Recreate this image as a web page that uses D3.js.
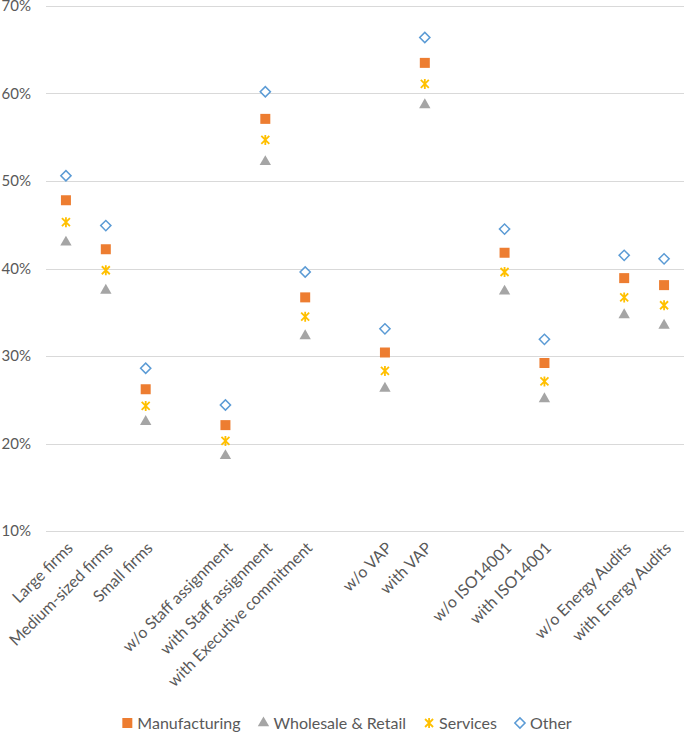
<!DOCTYPE html>
<html>
<head>
<meta charset="utf-8">
<script src="https://cdnjs.cloudflare.com/ajax/libs/d3/7.8.5/d3.min.js"></script>
<style>
  body { margin: 0; background: #fff; }
  text { font-family: Lato, "Open Sans", sans-serif; fill: #595959; }
</style>
</head>
<body>
<script>
// categories ("" = empty slot between groups)
var categories = ["Large firms", "Medium-sized firms", "Small firms", "",
  "w/o Staff assignment", "with Staff assignment", "with Executive commitment", "",
  "w/o VAP", "with VAP", "",
  "w/o ISO14001", "with ISO14001", "",
  "w/o Energy Audits", "with Energy Audits"];

var manufacturing = [47.8, 42.2, 26.2, null, 22.1, 57.1, 36.7, null, 30.4, 63.5, null, 41.8, 29.2, null, 38.9, 38.1];
var wholesale     = [43.0, 37.5, 22.5, null, 18.6, 52.2, 32.3, null, 26.3, 58.7, null, 37.4, 25.1, null, 34.7, 33.5];
var services      = [45.3, 39.8, 24.3, null, 20.3, 54.7, 34.5, null, 28.3, 61.1, null, 39.6, 27.1, null, 36.7, 35.8];
var other         = [50.6, 44.9, 28.6, null, 24.4, 60.2, 39.6, null, 33.1, 66.4, null, 44.5, 31.9, null, 41.5, 41.1];

var yTicks = [10, 20, 30, 40, 50, 60, 70];
var seriesNames = ["Manufacturing", "Wholesale & Retail", "Services", "Other"];

var w = 685, h = 733;
var margin = {left: 46, right: 1, top: 6, bottom: 202};

var svg = d3.select("body").append("svg")
  .attr("width", w)
  .attr("height", h);

var x = d3.scaleBand()
  .domain(d3.range(categories.length))
  .range([margin.left, w - margin.right]);

var y = d3.scaleLinear()
  .domain([10, 70])
  .range([h - margin.bottom, margin.top]);

// gridlines
svg.append("g").selectAll("line")
  .data(yTicks)
  .enter().append("line")
  .attr("x1", margin.left)
  .attr("x2", w - margin.right)
  .attr("y1", function(d) { return Math.round(y(d)) + 0.5; })
  .attr("y2", function(d) { return Math.round(y(d)) + 0.5; })
  .attr("stroke", "#d9d9d9")
  .attr("stroke-width", 1);

// y labels
svg.append("g").selectAll("text")
  .data(yTicks)
  .enter().append("text")
  .attr("x", 31)
  .attr("y", function(d) { return y(d); })
  .attr("dy", "0.35em")
  .attr("text-anchor", "end")
  .style("font-size", "15px")
  .text(function(d) { return d + "%"; });

// x labels, rotated
svg.append("g").selectAll("text")
  .data(categories)
  .enter().append("text")
  .attr("transform", function(d, i) {
    var cx = x(i) + x.bandwidth() / 2;
    return "translate(" + (cx + 8) + "," + (h - margin.bottom + 18) + ") rotate(-45)";
  })
  .attr("text-anchor", "end")
  .style("font-size", "16px")
  .text(function(d) { return d; });

// marker drawers
var starPath = "M0,-5V5M-4,-4L4,4M-4,4L4,-4";
function drawMarker(sel, k) {
  if (k === 0) {
    sel.append("path").attr("d", d3.symbol(d3.symbolSquare, 100)())
      .attr("fill", "#ed7d31");
  } else if (k === 1) {
    sel.append("path").attr("d", d3.symbol(d3.symbolTriangle, 56)())
      .attr("fill", "#a5a5a5");
  } else if (k === 2) {
    sel.append("path").attr("d", starPath)
      .attr("fill", "none").attr("stroke", "#ffc000").attr("stroke-width", 1.8);
  } else {
    sel.append("path").attr("d", d3.symbol(d3.symbolSquare, 52)())
      .attr("transform", "rotate(45)")
      .attr("fill", "#fff").attr("stroke", "#5b9bd5").attr("stroke-width", 1.5);
  }
}

var allSeries = [manufacturing, wholesale, services, other];
allSeries.forEach(function(vals, k) {
  var pts = vals.map(function(v, i) { return {i: i, v: v}; })
    .filter(function(d) { return d.v !== null; });
  var g = svg.append("g").selectAll("g")
    .data(pts)
    .enter().append("g")
    .attr("transform", function(d) {
      return "translate(" + (x(d.i) + x.bandwidth() / 2) + "," + y(d.v) + ")";
    });
  drawMarker(g, k);
});

// legend
var legend = svg.append("g");
var lx = 0;
seriesNames.forEach(function(name, k) {
  var item = legend.append("g").attr("transform", "translate(" + lx + ",0)");
  var m = item.append("g").attr("transform", "translate(5,0)");
  drawMarker(m, k);
  var t = item.append("text")
    .attr("x", 15)
    .attr("dy", "0.35em")
    .style("font-size", "16px")
    .text(name);
  lx += 15 + t.node().getComputedTextLength() + 18;
});
lx -= 18;
legend.attr("transform", "translate(" + (347 - lx / 2) + ",723)");
</script>
</body>
</html>
